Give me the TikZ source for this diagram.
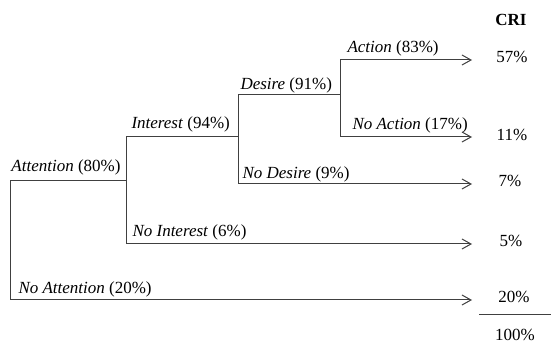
\documentclass[tikz,border=0pt]{standalone}
\usepackage{fontspec}
\setmainfont{Liberation Serif}
\usetikzlibrary{arrows.meta}
\begin{document}
\begin{tikzpicture}[x=1pt,y=-1pt,
    line width=1pt, draw=black!75,
    arr/.style={-{Straight Barb[length=9pt,width=10pt]}},
    lbl/.style={anchor=base west,inner sep=0pt,font=\fontsize{17}{19}\selectfont},
    val/.style={anchor=base,inner sep=0pt,font=\fontsize{17}{19}\selectfont}]
  \useasboundingbox (0,0) rectangle (551,344);
  % branch points
  \coordinate (att0) at (10,181);   \coordinate (att1) at (126,181);
  \coordinate (noatt) at (472,300);
  \coordinate (int0) at (126,137);  \coordinate (int1) at (238,137);
  \coordinate (noint) at (472,244);
  \coordinate (des0) at (238,95);   \coordinate (des1) at (340,95);
  \coordinate (nodes) at (472,184);
  \coordinate (act0) at (340,60);   \coordinate (act1) at (472,60);
  \coordinate (noact) at (472,137);
  % tree
  \draw[arr] (att1) -- (att0) |- (noatt);
  \draw[arr] (int1) -- (int0) |- (noint);
  \draw[arr] (des1) -- (des0) |- (nodes);
  \draw[arr] (act0) -- (act1);
  \draw[arr] (act0) |- (noact);
  % branch labels
  \node[lbl] (l-att)   at (11,172)  {\textit{Attention} (80\%)};
  \node[lbl] (l-noatt) at (18,294)  {\textit{No Attention} (20\%)};
  \node[lbl] (l-int)   at (131,129) {\textit{Interest} (94\%)};
  \node[lbl] (l-noint) at (132,237) {\textit{No Interest} (6\%)};
  \node[lbl] (l-des)   at (240,90)  {\textit{Desire} (91\%)};
  \node[lbl] (l-nodes) at (242,179) {\textit{No Desire} (9\%)};
  \node[lbl] (l-act)   at (347,53)  {\textit{Action} (83\%)};
  \node[lbl] (l-noact) at (352,130) {\textit{No Action} (17\%)};
  % CRI column
  \node[val] (cri)   at (511,26)  {\textbf{CRI}};
  \node[val] (v-act) at (512,63)  {57\%};
  \node[val] (v-noact) at (512,141) {11\%};
  \node[val] (v-nodes) at (510,187) {7\%};
  \node[val] (v-noint) at (511,247) {5\%};
  \node[val] (v-noatt) at (514,303) {20\%};
  \node[val] (total) at (515,341) {100\%};
  \coordinate (rule0) at (479,315); \coordinate (rule1) at (551,315);
  \draw (rule0) -- (rule1);
\end{tikzpicture}
\end{document}
